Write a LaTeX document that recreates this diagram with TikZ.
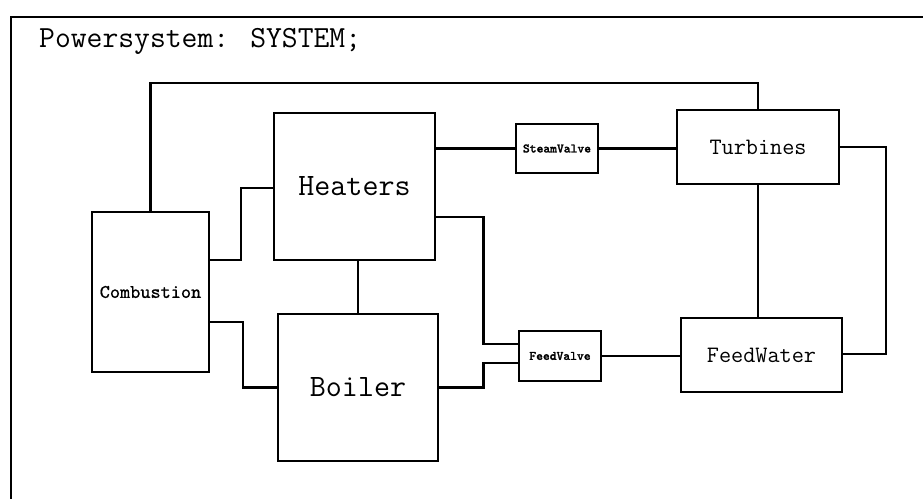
\documentclass[tikz,border=0pt]{standalone}
\usepackage{fontspec}
\newfontfamily\heavytt{Latin Modern Mono}[FakeBold=2]
\newfontfamily\semitt{Latin Modern Mono}[FakeBold=0.8]
\usepackage{tikz}
\usetikzlibrary{positioning,calc}

\begin{document}
\begin{tikzpicture}[x=0.02cm, y=-0.02cm, font=\ttfamily,
    blk/.style={draw, line width=1.25pt, inner sep=0pt},
    wire/.style={line width=1.25pt}]
        \useasboundingbox (0,0) rectangle (923,499);
        % frame of the system, cut off at right and bottom
        \draw[line width=1pt] (923,17) -- (11,17) -- (11,499);
        \node[anchor=base west, font=\ttfamily\fontsize{17.5}{20}\selectfont] (title) at (33,48) {Powersystem: SYSTEM;};
        % the blocks
        \node[blk, minimum width=2.34cm, minimum height=3.2cm, font=\semitt\fontsize{11}{13}\selectfont] (comb) at (150.5,292) {Combustion};
        \node[blk, minimum width=3.22cm, minimum height=2.94cm, font=\ttfamily\fontsize{17.7}{20}\selectfont] (heat) at (354.5,186.5) {Heaters};
        \node[blk, minimum width=3.2cm, minimum height=2.94cm, font=\ttfamily\fontsize{17.7}{20}\selectfont] (boil) at (358,387.5) {Boiler};
        \node[blk, minimum width=1.64cm, minimum height=0.98cm, font=\heavytt\fontsize{7.3}{9}\selectfont] (sv) at (557,148.5) {SteamValve};
        \node[blk, minimum width=1.64cm, minimum height=1cm, font=\heavytt\fontsize{7.3}{9}\selectfont] (fv) at (560,356) {FeedValve};
        \node[blk, minimum width=3.24cm, minimum height=1.48cm, font=\ttfamily\fontsize{13.4}{16}\selectfont] (turb) at (758,147) {Turbines};
        \node[blk, minimum width=3.22cm, minimum height=1.48cm, font=\ttfamily\fontsize{13.4}{16}\selectfont] (fw) at (761.5,355) {FeedWater};
        % connections
        \draw[wire] (comb.north) -- (comb.north |- 0,83) -| (turb.north);
        \draw[wire] (comb.east |- 0,260) -| (241,188) -- (heat.west |- 0,188);
        \draw[wire] (comb.east |- 0,322) -| (243,387.5) -- (boil.west);
        \draw[wire] (boil.north) -- (boil.north |- heat.south);
        \draw[wire] (heat.east |- sv.west) -- (sv.west);
        \draw[wire] (sv.east) -- (sv.east -| turb.west);
        \draw[wire] (heat.east |- 0,217) -| (483.5,344) -- (fv.west |- 0,344);
        \draw[wire] (boil.east) -| (483.5,363) -- (fv.west |- 0,363);
        \draw[wire] (fv.east) -- (fv.east -| fw.west);
        \draw[wire] (turb.south) -- (turb.south |- fw.north);
        \draw[wire] (turb.east) -| (886,354) -- (fw.east |- 0,354);
      \end{tikzpicture}
\end{document}
